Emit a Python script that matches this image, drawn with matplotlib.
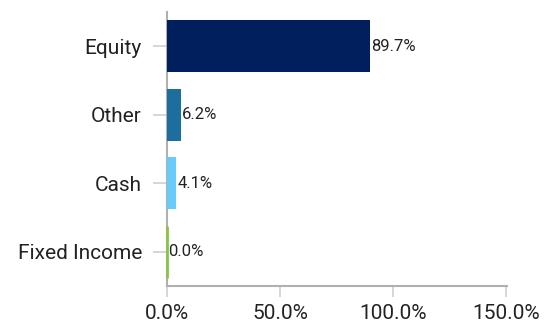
import matplotlib
matplotlib.use('Agg')
import matplotlib.pyplot as plt
from matplotlib.ticker import FuncFormatter

categories = ['Equity', 'Other', 'Cash', 'Fixed Income']
values = [89.7, 6.2, 4.1, 0.0]
bar_colors = ['#001f5c', '#1b6e9e', '#66ccfa', '#8bc34a']
xticks = [0, 50, 100, 150]

plt.rcParams['font.family'] = ['Roboto', 'DejaVu Sans']

fig = plt.figure(figsize=(5.46, 3.28), dpi=100)
ax = fig.add_axes([167 / 546, 1 - 286 / 328, (507 - 167) / 546, (286 - 12) / 328])

ypos = list(range(len(categories)))
bars = ax.barh(ypos, values, height=0.76, color=bar_colors, linewidth=0, zorder=3)
# zero-value bars still show as a thin coloured line
for b, v, c in zip(bars, values, bar_colors):
    if v == 0:
        b.set_edgecolor(c)
        b.set_linewidth(2)
        b.set_clip_on(False)

for y, v in zip(ypos, values):
    ax.text(v + 0.6, y, f'{v:.1f}%', va='center', ha='left', fontsize=12, color='#222222', zorder=4)

ax.set_ylim(len(categories) - 0.5, -0.5)
ax.set_xlim(0, 150.5)
ax.set_yticks(ypos)
ax.set_yticklabels(categories, fontsize=15, color='#222222')
ax.set_xticks(xticks)
ax.xaxis.set_major_formatter(FuncFormatter(lambda x, p: f'{x:.1f}%'))
ax.tick_params(axis='x', labelsize=15, colors='#222222', length=8, width=1.2,
               color='#d0d0d0', pad=5)
ax.tick_params(axis='y', length=10, width=1.2, color='#d0d0d0', pad=8)

for s in ['top', 'right']:
    ax.spines[s].set_visible(False)
for s in ['left', 'bottom']:
    ax.spines[s].set_color('#b0b0b0')
    ax.spines[s].set_linewidth(1.5)

plt.savefig('out.png', dpi=100)
